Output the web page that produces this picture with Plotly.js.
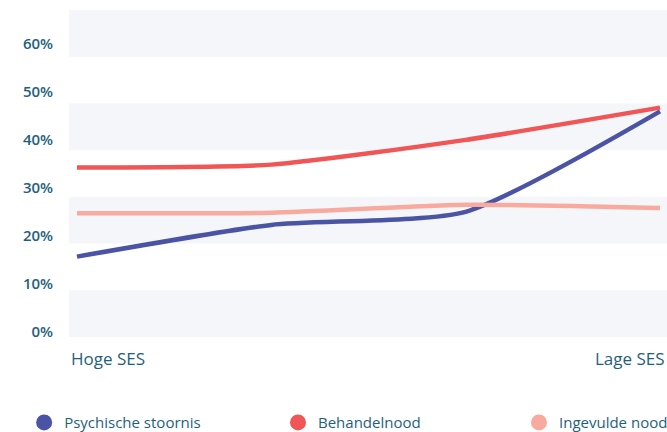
<!DOCTYPE html>
<html>
<head>
<meta charset="utf-8">
<script src="https://cdn.plot.ly/plotly-3.0.1.min.js"></script>
<style>
  html, body { margin: 0; padding: 0; background: #ffffff; }
  #chart { width: 667px; height: 432px; }
</style>
</head>
<body>
<div id="chart"></div>
<script>
// ---- data ----
const categories = [0, 1, 2, 3];             // SES steps from high to low
const tickLabels = ["Hoge SES", "Lage SES"];  // shown at first and last step
const seriesNames = ["Psychische stoornis", "Behandelnood", "Ingevulde nood"];
const psychischeStoornis = [17.2, 24.0, 26.8, 48.3];
const behandelnood = [36.3, 36.9, 42.2, 49.1];
const ingevuldeNood = [26.5, 26.6, 28.3, 27.6];
const yTickVals = [0, 10, 20, 30, 40, 50, 60];
const yTickText = ["0%", "10%", "20%", "30%", "40%", "50%", "60%"];

// ---- style ----
const colors = ["#4a53a4", "#f05656", "#f8aa9f"];
const textColor = "#1f5f7c";
const bandColor = "#f5f6fa";
const fontFamily = "'Open Sans', 'Noto Sans', sans-serif";
const legendIds = ["legend", "legend2", "legend3"];
const legendX = [-0.075, 0.3495, 0.7525];

const seriesValues = [psychischeStoornis, behandelnood, ingevuldeNood];

const traces = [];
seriesValues.forEach((vals, i) => {
  traces.push({
    x: categories, y: vals, type: "scatter", mode: "lines",
    line: { color: colors[i], width: 4.5, shape: "spline", smoothing: 0.6 },
    showlegend: false, hoverinfo: "skip"
  });
});
// legend entries (circle symbols), attached to the label axis
seriesNames.forEach((name, i) => {
  traces.push({
    x: [null], y: [null], yaxis: "y2", type: "scatter", mode: "markers", name: name,
    marker: { color: colors[i], size: 16, symbol: "circle" },
    showlegend: true, legend: legendIds[i]
  });
});

// alternating horizontal bands
const shapes = [];
for (let v = 0; v <= 60; v += 20) {
  shapes.push({
    type: "rect", xref: "paper", yref: "y", x0: 0, x1: 1, y0: v, y1: v + 10,
    fillcolor: bandColor, line: { width: 0 }, layer: "below"
  });
}

const xLabelFont = { family: fontFamily, size: 17, color: textColor, weight: 500 };
const annotations = [
  { xref: "paper", yref: "paper", x: 0, y: 0, yshift: -21, xanchor: "left", yanchor: "middle",
    text: tickLabels[0], showarrow: false, font: xLabelFont },
  { xref: "paper", yref: "paper", x: 1, y: 0, yshift: -21, xanchor: "right", yanchor: "middle",
    text: tickLabels[1], showarrow: false, font: xLabelFont }
];

const legendBase = (x) => ({
  orientation: "h", x: x, y: -0.262, xanchor: "left", yanchor: "middle",
  font: { family: fontFamily, size: 15, color: textColor },
  itemclick: false, itemdoubleclick: false, bgcolor: "rgba(0,0,0,0)"
});

const layout = {
  width: 667, height: 432,
  margin: { l: 69, r: 0, t: 10, b: 95, pad: 0, autoexpand: false },
  paper_bgcolor: "#ffffff", plot_bgcolor: "#ffffff",
  font: { family: fontFamily, color: textColor },
  xaxis: {
    range: [-0.041, 3.036], showgrid: false, zeroline: false, showline: false,
    showticklabels: false, ticks: "", fixedrange: true
  },
  yaxis: {
    range: [0, 70], showgrid: false, zeroline: false, showline: false, ticks: "",
    showticklabels: false
  },
  yaxis2: {
    overlaying: "y", side: "left",
    range: [-1.04, 67.08], tickvals: yTickVals, ticktext: yTickText,
    showgrid: false, zeroline: false, showline: false, ticks: "",
    ticklabelstandoff: 15,
    tickfont: { family: fontFamily, size: 15, color: textColor, weight: 600 }
  },
  shapes: shapes,
  annotations: annotations,
  showlegend: true,
  legend: legendBase(legendX[0]),
  legend2: legendBase(legendX[1]),
  legend3: legendBase(legendX[2])
};

Plotly.newPlot("chart", traces, layout, { displayModeBar: false, staticPlot: true });
</script>
</body>
</html>
